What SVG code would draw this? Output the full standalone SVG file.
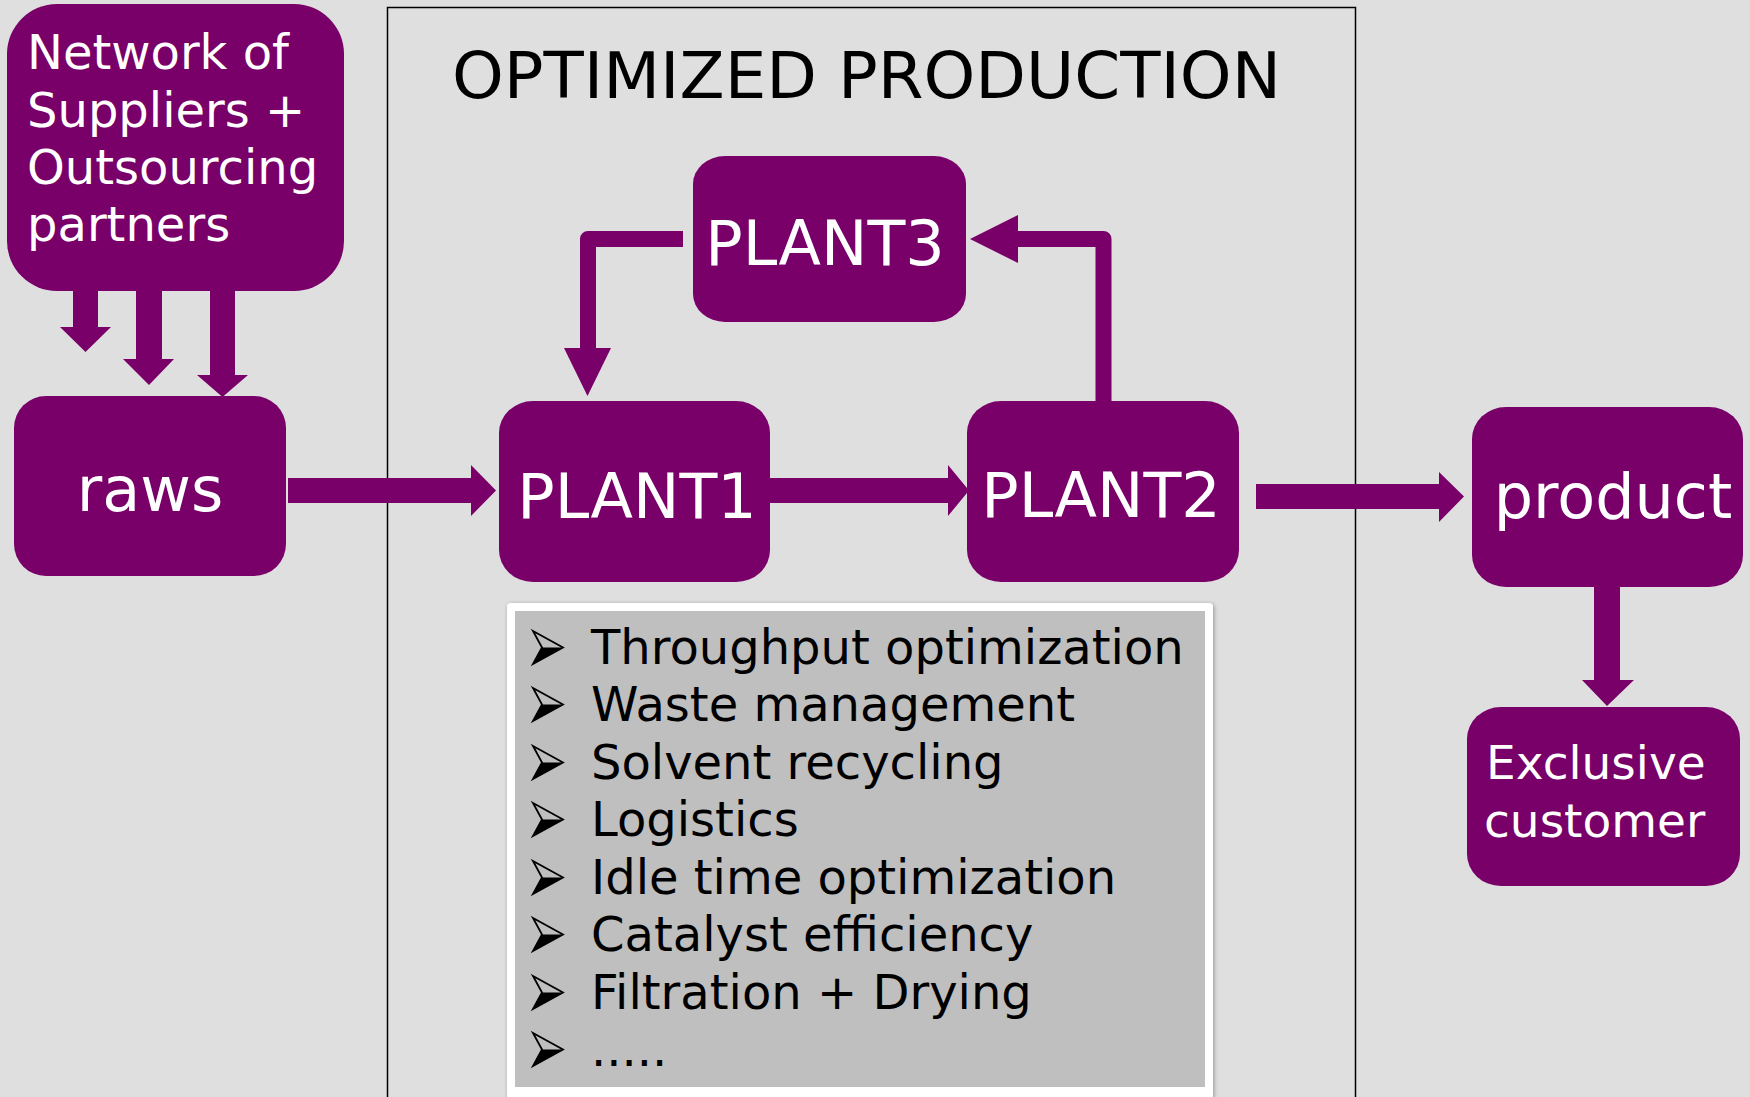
<svg xmlns="http://www.w3.org/2000/svg" width="1750" height="1097" viewBox="0 0 1750 1097">
  <style>
    .node { fill: #780068; }
    .lbl { font-family: "DejaVu Sans", Verdana, sans-serif; fill: #ffffff; }
    .big { font-size: 62px; text-anchor: middle; }
    .mid { font-size: 48px; }
    .flow { fill: #780068; }
    .loop { fill: none; stroke: #780068; stroke-width: 16; stroke-linejoin: round; }
    .item { font-family: "DejaVu Sans", Verdana, sans-serif; font-size: 48px; fill: #000000; }
  </style>
  <defs>
    <!-- list bullet: outlined arrowhead with filled lower half -->
    <g id="bullet">
      <polygon points="0,0 30,16.5 0,33 9,16.5" fill="none" stroke="#000" stroke-width="1.8" stroke-linejoin="miter"/>
      <polygon points="9,16.5 30,16.5 0,33" fill="#000"/>
    </g>
    <filter id="shadow" x="-5%" y="-5%" width="110%" height="110%">
      <feDropShadow dx="1" dy="1" stdDeviation="2" flood-color="#000" flood-opacity="0.35"/>
    </filter>
  </defs>

  <rect x="0" y="0" width="1750" height="1097" fill="#dfdfdf"/>

  <!-- production frame -->
  <g id="frame">
    <rect x="387.5" y="7.5" width="968" height="1100" fill="none" stroke="#000" stroke-width="1.5"/>
    <text x="866.5" y="98" font-family="DejaVu Sans, Verdana, sans-serif" font-size="64" fill="#000" text-anchor="middle" textLength="829" lengthAdjust="spacingAndGlyphs">OPTIMIZED PRODUCTION</text>
  </g>

  <!-- connectors -->
  <g id="connectors">
    <!-- suppliers to raws -->
    <polygon class="flow" points="73,291 98,291 98,327 111,327 85.5,352 60,327 73,327"/>
    <polygon class="flow" points="136,291 162,291 162,359 174,359 149,385 123,359 136,359"/>
    <polygon class="flow" points="210,291 235,291 235,375 248,375 222.5,397 197,375 210,375"/>
    <!-- raws to PLANT1 -->
    <polygon class="flow" points="288,478 471,478 471,465 496,490.5 471,516 471,503 288,503"/>
    <!-- PLANT1 to PLANT2 -->
    <polygon class="flow" points="770,478 948,478 948,465 969,490.5 948,516 948,503 770,503"/>
    <!-- PLANT2 to product -->
    <polygon class="flow" points="1256,484 1439,484 1439,472 1464,496.5 1439,522 1439,509 1256,509"/>
    <!-- product to customer -->
    <polygon class="flow" points="1594,587 1620,587 1620,680 1634,680 1607,706 1582,680 1594,680"/>
    <!-- PLANT3 back to PLANT1 -->
    <path class="loop" d="M683,239 H588 V350"/>
    <polygon class="flow" points="564,348 611,348 587.5,396"/>
    <!-- PLANT2 up to PLANT3 -->
    <path class="loop" d="M1103.5,401 V239 H1016"/>
    <polygon class="flow" points="1018,215 1018,263 970,239"/>
  </g>

  <g id="suppliers">
    <rect class="node" x="7" y="4" width="337" height="287" rx="50" ry="50"/>
    <text class="lbl mid" x="27" y="69">Network of</text>
    <text class="lbl mid" x="27" y="127">Suppliers +</text>
    <text class="lbl mid" x="27" y="184">Outsourcing</text>
    <text class="lbl mid" x="27" y="241">partners</text>
  </g>

  <g id="raws">
    <rect class="node" x="14" y="396" width="272" height="180" rx="32" ry="32"/>
    <text class="lbl big" x="150" y="511">raws</text>
  </g>

  <g id="plant1">
    <rect class="node" x="499" y="401" width="271" height="181" rx="34" ry="32"/>
    <text class="lbl big" x="637" y="518">PLANT1</text>
  </g>

  <g id="plant2">
    <rect class="node" x="967" y="401" width="272" height="181" rx="34" ry="32"/>
    <text class="lbl big" x="1101" y="517">PLANT2</text>
  </g>

  <g id="plant3">
    <rect class="node" x="693" y="156" width="273" height="166" rx="32" ry="28"/>
    <text class="lbl big" x="825" y="265">PLANT3</text>
  </g>

  <g id="product">
    <rect class="node" x="1472" y="407" width="271" height="180" rx="34" ry="32"/>
    <text class="lbl big" x="1613" y="518">product</text>
  </g>

  <g id="customer">
    <rect class="node" x="1467" y="707" width="273" height="179" rx="34" ry="32"/>
    <text class="lbl" font-size="47" x="1486" y="779">Exclusive</text>
    <text class="lbl" font-size="47" x="1484" y="837">customer</text>
  </g>

  <g id="tasks">
    <rect x="507" y="603" width="706" height="496" rx="4" ry="4" fill="#ffffff" filter="url(#shadow)"/>
    <rect x="515" y="611" width="690" height="476" fill="#bfbfbf"/>
    <use href="#bullet" x="533" y="631"/>
    <use href="#bullet" x="533" y="688"/>
    <use href="#bullet" x="533" y="746"/>
    <use href="#bullet" x="533" y="803"/>
    <use href="#bullet" x="533" y="861"/>
    <use href="#bullet" x="533" y="918"/>
    <use href="#bullet" x="533" y="976"/>
    <use href="#bullet" x="533" y="1033"/>
    <text class="item" x="591" y="664">Throughput optimization</text>
    <text class="item" x="591" y="721">Waste management</text>
    <text class="item" x="591" y="779">Solvent recycling</text>
    <text class="item" x="591" y="836">Logistics</text>
    <text class="item" x="591" y="894">Idle time optimization</text>
    <text class="item" x="591" y="951">Catalyst efficiency</text>
    <text class="item" x="591" y="1009">Filtration + Drying</text>
    <text class="item" x="591" y="1066">.....</text>
  </g>
</svg>
